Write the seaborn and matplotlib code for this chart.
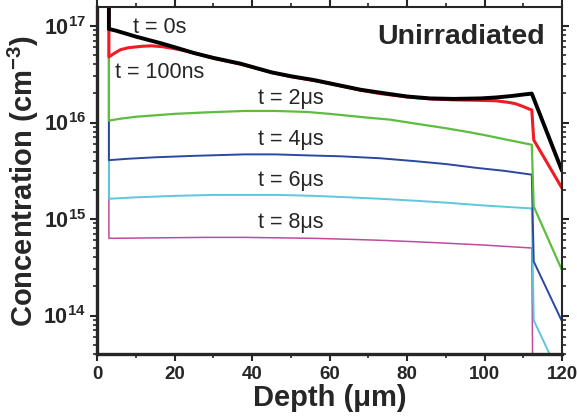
import numpy as np
import pandas as pd
import matplotlib
matplotlib.use("Agg")
import matplotlib.pyplot as plt
import matplotlib.ticker as mticker
import seaborn as sns

# depth in um, concentration as log10(cm^-3)
depth_0s = [3.0, 3.0, 5, 10, 16.6, 20, 25, 30, 37, 45, 50, 56, 62, 68, 73, 80, 86, 92, 99, 103, 107, 110, 112.2, 120]
logc_0s = [18.0, 16.97, 16.95, 16.89, 16.82, 16.78, 16.72, 16.67, 16.61, 16.52, 16.48, 16.44, 16.39, 16.34,
           16.31, 16.27, 16.25, 16.245, 16.25, 16.26, 16.275, 16.29, 16.30, 15.50]

depth_100ns = [3.0, 3.0, 4.5, 6, 8, 11.5, 14, 17, 20, 23, 26, 30, 37, 45, 50, 56, 62, 68, 73, 80, 86, 92, 99,
               103, 106, 108, 110, 111.5, 112.2, 112.7, 120]
logc_100ns = [18.0, 16.68, 16.72, 16.755, 16.775, 16.79, 16.795, 16.785, 16.765, 16.74, 16.71, 16.665, 16.605,
              16.52, 16.475, 16.435, 16.385, 16.335, 16.30, 16.265, 16.245, 16.235, 16.23, 16.225, 16.21,
              16.195, 16.165, 16.14, 16.13, 15.82, 15.32]

depth_2us = [3.0, 3.0, 6, 10, 15, 20, 28, 38, 46, 54, 60, 65, 70, 75.6, 82, 90.2, 96, 100, 106, 112.2, 112.7, 120]
logc_2us = [18.0, 16.02, 16.04, 16.06, 16.075, 16.09, 16.105, 16.12, 16.12, 16.11, 16.09, 16.07, 16.05, 16.03,
            15.99, 15.94, 15.90, 15.87, 15.82, 15.77, 15.13, 14.47]

depth_4us = [3.0, 3.0, 8, 15, 25, 38, 46, 54, 63, 73, 82, 90, 98, 105, 112.2, 112.7, 120]
logc_4us = [18.0, 15.61, 15.625, 15.64, 15.655, 15.67, 15.67, 15.66, 15.65, 15.63, 15.60, 15.57, 15.53, 15.50,
            15.46, 14.56, 13.94]

depth_6us = [3.0, 3.0, 10, 20, 30, 38, 47, 56, 65, 73, 82, 90, 100, 106, 112.2, 112.7, 120]
logc_6us = [18.0, 15.21, 15.225, 15.24, 15.25, 15.25, 15.25, 15.24, 15.225, 15.21, 15.19, 15.17, 15.14, 15.125,
            15.11, 13.95, 13.33]

depth_8us = [3.0, 3.0, 15, 28, 38, 47, 56, 65, 73, 82, 90, 100, 106, 112.2, 112.6, 120]
logc_8us = [18.0, 14.80, 14.805, 14.81, 14.81, 14.805, 14.80, 14.79, 14.78, 14.765, 14.75, 14.73, 14.715, 14.70,
            12.5, 12.0]

labels = ["t = 0s", "t = 100ns", "t = 2\u03bcs", "t = 4\u03bcs", "t = 6\u03bcs", "t = 8\u03bcs"]
colors = ["#000000", "#ee1c24", "#5cbd3e", "#2a48a0", "#5ec7dd", "#c04a9e"]
widths = [2.8, 2.2, 1.6, 1.4, 1.4, 1.1]
# label anchors (left x in um, log10 y)
label_x = [9.2, 4.7, 41.5, 41.5, 41.5, 41.5]
label_y = [16.98, 16.52, 16.25, 15.82, 15.40, 14.96]

series = [
    (depth_0s, logc_0s), (depth_100ns, logc_100ns), (depth_2us, logc_2us),
    (depth_4us, logc_4us), (depth_6us, logc_6us), (depth_8us, logc_8us),
]

sns.set_style("ticks")
plt.rcParams["font.family"] = ["Liberation Sans", "DejaVu Sans"]
plt.rcParams["mathtext.fontset"] = "custom"
plt.rcParams["mathtext.rm"] = "Liberation Sans"
plt.rcParams["mathtext.bf"] = "Liberation Sans:bold"

fig = plt.figure(figsize=(5.77, 4.18), dpi=100)
ax = fig.add_axes([0.1686, 0.153, 0.974 - 0.1686, 0.9825 - 0.153])

# draw from last to first so black sits on top
for i in reversed(range(len(series))):
    d, lc = series[i]
    df = pd.DataFrame({"depth": d, "conc": 10 ** np.array(lc)})
    sns.lineplot(data=df, x="depth", y="conc", ax=ax, color=colors[i],
                 linewidth=widths[i], sort=False, estimator=None)

for i, lab in enumerate(labels):
    ax.text(label_x[i], 10 ** label_y[i], lab, fontsize=15.5, ha="left", va="center")

ax.text(115.5, 10 ** 16.89, "Unirradiated", fontsize=20.5, fontweight="bold",
        ha="right", va="center")

ax.set_yscale("log")
ax.set_xlim(0, 120)
ax.set_ylim(10 ** 13.601, 10 ** 17.194)

ax.xaxis.set_major_locator(mticker.MultipleLocator(20))
ax.xaxis.set_minor_locator(mticker.MultipleLocator(10))
ax.yaxis.set_major_locator(mticker.LogLocator(base=10, numticks=10))
ax.yaxis.set_minor_locator(mticker.LogLocator(base=10, subs=np.arange(2, 10), numticks=20))
ax.yaxis.set_major_formatter(mticker.FuncFormatter(
    lambda v, p: r"$\mathbf{10^{%d}}$" % round(np.log10(v))))
ax.yaxis.set_minor_formatter(mticker.NullFormatter())

ax.tick_params(axis="both", which="major", length=5, width=1.5, direction="out")
ax.tick_params(axis="y", which="major", labelsize=15.5, pad=3)
ax.tick_params(axis="x", which="major", labelsize=13.5)
ax.tick_params(axis="both", which="minor", length=3, width=1.2, direction="out")
ax.tick_params(top=True, right=True, which="both")
ax.xaxis.set_tick_params(which="both", labeltop=False)
for lab in ax.get_xticklabels():
    lab.set_fontweight("bold")

for side in ["left", "bottom"]:
    ax.spines[side].set_linewidth(2.4)
for side in ["top", "right"]:
    ax.spines[side].set_linewidth(1.5)
    ax.spines[side].set_visible(True)

ax.set_xlabel("Depth (\u03bcm)", fontsize=21, fontweight="bold", labelpad=1)
ax.set_ylabel(r"Concentration (cm$^{\mathbf{-3}}$)", fontsize=21, fontweight="bold", va="center")
ax.yaxis.set_label_coords(-0.158, 0.5)

fig.savefig("out.png", dpi=100)
